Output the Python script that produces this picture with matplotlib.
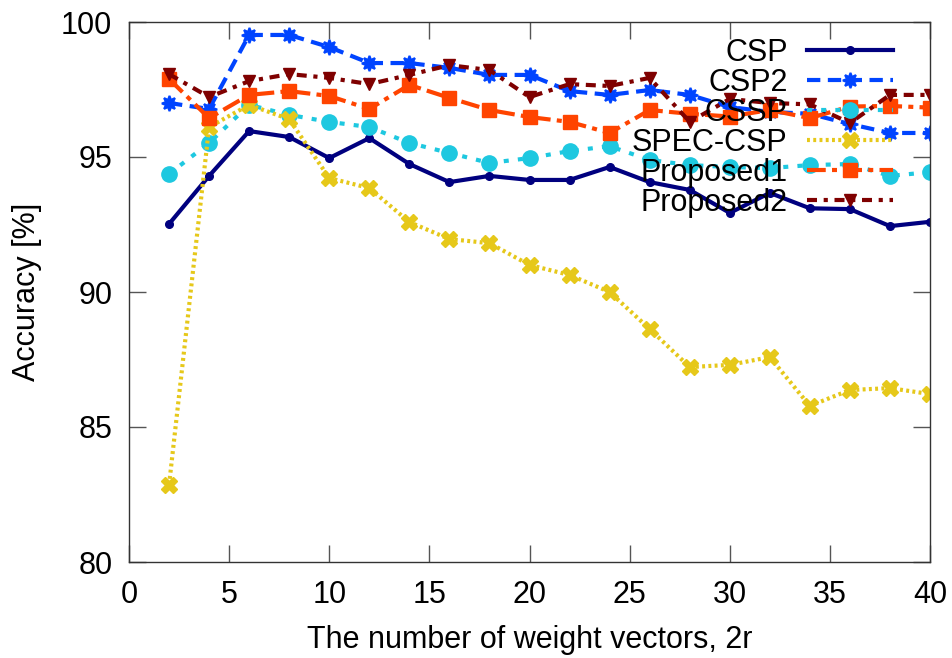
import matplotlib
matplotlib.use("Agg")
import matplotlib.pyplot as plt

plt.rcParams['font.family'] = ['Liberation Sans', 'DejaVu Sans']

x = [2, 4, 6, 8, 10, 12, 14, 16, 18, 20, 22, 24, 26, 28, 30, 32, 34, 36, 38, 40]

csp = [92.52, 94.30, 95.96, 95.74, 94.96, 95.70, 94.74, 94.07, 94.30, 94.15,
       94.15, 94.63, 94.07, 93.78, 92.93, 93.67, 93.10, 93.07, 92.44, 92.60]
csp2 = [97.00, 96.78, 99.52, 99.52, 99.07, 98.48, 98.48, 98.30, 98.04, 98.04,
        97.44, 97.30, 97.48, 97.30, 96.85, 96.67, 96.60, 96.22, 95.89, 95.89]
cssp = [94.37, 95.52, 96.93, 96.56, 96.30, 96.11, 95.52, 95.15, 94.78, 94.96,
        95.22, 95.40, 94.89, 94.70, 94.63, 94.59, 94.70, 94.74, 94.30, 94.44]
spec_csp = [82.85, 96.11, 96.93, 96.40, 94.22, 93.85, 92.59, 91.96, 91.81, 91.00,
            90.63, 90.00, 88.63, 87.22, 87.30, 87.59, 85.78, 86.37, 86.44, 86.22]
proposed1 = [97.89, 96.44, 97.30, 97.44, 97.26, 96.78, 97.67, 97.19, 96.74, 96.48,
             96.30, 95.89, 96.74, 96.60, 96.50, 96.74, 96.44, 96.87, 96.89, 96.83]
proposed2 = [98.07, 97.22, 97.81, 98.07, 97.93, 97.70, 98.04, 98.40, 98.22, 97.22,
             97.70, 97.63, 97.93, 96.30, 97.15, 97.00, 96.95, 96.26, 97.30, 97.30]

labels = ["CSP", "CSP2", "CSSP", "SPEC-CSP", "Proposed1", "Proposed2"]
xticks = [0, 5, 10, 15, 20, 25, 30, 35, 40]
yticks = [80, 85, 90, 95, 100]

fig = plt.figure(figsize=(9.52, 6.58), dpi=100)
ax = fig.add_axes([129/952, 1-562/658, (930-129)/952, (562-22)/658])

lw = 3.0
ax.plot(x, csp, color="#00007f", lw=lw, ls="-", marker="o", ms=5.5,
        label=labels[0])
ax.plot(x, csp2, color="#0044ff", lw=lw, ls=(0, (3.2, 1.8)), marker=(8, 1, 0), ms=11,
        mew=1.5, label=labels[1])
ax.plot(x, cssp, color="#1ec8e0", lw=lw, ls=(0, (1.2, 2.2)), marker="o", ms=11,
        label=labels[2])
ax.plot(x, spec_csp, color="#e6c81a", lw=3.0, ls=(0, (0.7, 0.8)), marker="X", ms=11,
        label=labels[3])
ax.plot(x, proposed1, color="#ff4400", lw=lw, ls=(0, (4.5, 1.5, 1.2, 1.5)), marker="s", ms=9.5,
        label=labels[4])
ax.plot(x, proposed2, color="#7f0000", lw=lw, ls=(0, (2.4, 1.6, 1.0, 1.6)), marker="v", ms=9,
        label=labels[5])

ax.set_xlim(0, 40)
ax.set_ylim(80, 100)
ax.set_xticks(xticks)
ax.set_yticks(yticks)
ax.tick_params(direction="in", length=12, width=1, colors="#555555",
               labelcolor="black", labelsize=22, top=True, right=True)
ax.tick_params(axis="x", pad=13)
ax.tick_params(axis="y", pad=12)
for s in ax.spines.values():
    s.set_linewidth(1.0)
    s.set_color("#333333")

ax.set_xlabel("The number of weight vectors, 2r", fontsize=22, labelpad=11)
ax.set_ylabel("Accuracy [%]", fontsize=22, labelpad=14)

leg = ax.legend(loc="upper right", bbox_to_anchor=(893/952, 1 - 38/658),
                bbox_transform=fig.transFigure, frameon=False, markerfirst=False,
                fontsize=22, handlelength=2.8, handletextpad=0.65, labelspacing=0.0,
                borderaxespad=0, borderpad=0)

fig.savefig("out.png", dpi=100)
